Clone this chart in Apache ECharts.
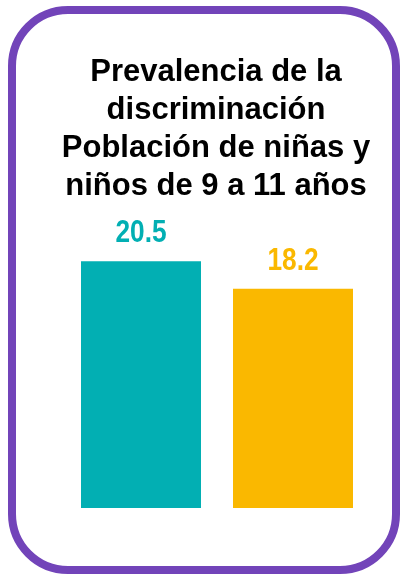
<!DOCTYPE html>
<html>
<head>
<meta charset="utf-8">
<script src="https://cdn.jsdelivr.net/npm/echarts@6/dist/echarts.min.js"></script>
<style>
html,body{margin:0;padding:0;background:#fff;}
#chart{width:400px;height:574px;}
</style>
</head>
<body>
<div id="chart"></div>
<script>
const titleLines = ["Prevalencia de la", "discriminación", "Población de niñas y", "niños de 9 a 11 años"];
const categories = ["Niñas", "Niños"];
const values = [20.5, 18.2];
const barColors = ["#02AFB3", "#FAB800"];

const chart = echarts.init(document.getElementById('chart'), null, {renderer: 'canvas'});
chart.setOption({
  backgroundColor: '#ffffff',
  animation: false,
  title: {
    text: titleLines.join('\n'),
    left: 216,
    top: 53,
    textAlign: 'center',
    padding: 0,
    textStyle: {
      fontFamily: '"Liberation Sans", Arial, sans-serif',
      fontWeight: 'bold',
      fontSize: 31,
      lineHeight: 38,
      color: '#000000'
    }
  },
  graphic: [{
    type: 'rect',
    shape: {x: 12, y: 10, width: 384, height: 560, r: 56},
    style: {fill: 'none', stroke: '#7244B9', lineWidth: 8},
    z: 10
  }],
  grid: {left: 65, width: 304, top: 207, bottom: 66, containLabel: false},
  xAxis: {
    type: 'category',
    data: categories,
    show: false
  },
  yAxis: {
    type: 'value',
    min: 0,
    max: 25,
    show: false
  },
  series: [{
    type: 'bar',
    barWidth: 120,
    z: 2,
    data: values.map((v, i) => ({
      value: v,
      itemStyle: {color: barColors[i]}
    }))
  }, {
    type: 'custom',
    data: values.map((v, i) => [i, v]),
    z: 10,
    clip: false,
    renderItem: function (params, api) {
      const idx = params.dataIndex;
      const p = api.coord([api.value(0), api.value(1)]);
      return {
        type: 'text',
        x: p[0],
        y: p[1] - 12,
        scaleX: 0.82,
        style: {
          text: values[idx].toFixed(1),
          align: 'center',
          verticalAlign: 'bottom',
          fontFamily: '"Liberation Sans", Arial, sans-serif',
          fontWeight: 'bold',
          fontSize: 32,
          fill: barColors[idx]
        }
      };
    }
  }]
});
</script>
</body>
</html>
